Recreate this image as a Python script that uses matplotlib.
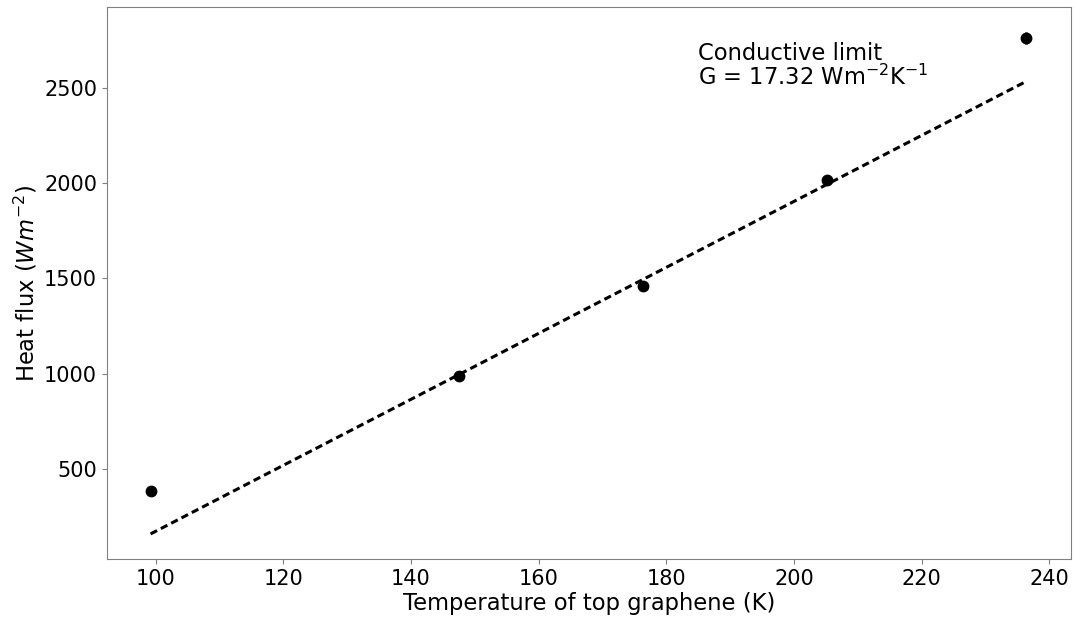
import matplotlib
matplotlib.use("Agg")
import matplotlib.pyplot as plt
import numpy as np

# Data
temperature = [99.2, 147.5, 176.4, 205.2, 236.3]
heat_flux = [384, 989, 1458, 2014, 2763]
heat_flux_err = [12, 15, 12, 20, 30]

G = 17.32
offset = -1560
fit_T = [99.2, 236.5]

fig = plt.figure(figsize=(10.76, 6.21), dpi=100)
ax = fig.add_axes([0.0992, 0.0998, 0.8959, 0.8889])

fit_flux = [G * t + offset for t in fit_T]
ax.plot(fit_T, fit_flux, color='black', linewidth=2.2, dashes=(2.4, 1.4))
ax.errorbar(temperature, heat_flux, yerr=heat_flux_err, fmt='o', color='black',
            markersize=7.5, elinewidth=2, capsize=0)

ax.text(185.0, 2490, "Conductive limit\nG = 17.32 Wm$^{-2}$K$^{-1}$",
        fontsize=16.3, ha='left', va='bottom', linespacing=1.0)

ax.set_xlabel("Temperature of top graphene (K)", fontsize=16.3, labelpad=2)
ax.set_ylabel("Heat flux ($Wm^{-2}$)", fontsize=16.3, labelpad=3)
ax.set_xticks([100, 120, 140, 160, 180, 200, 220, 240])
ax.set_yticks([500, 1000, 1500, 2000, 2500])
ax.tick_params(labelsize=15, color='#808080')
for s in ax.spines.values():
    s.set_color('#808080')

fig.savefig("out.png", dpi=100)
